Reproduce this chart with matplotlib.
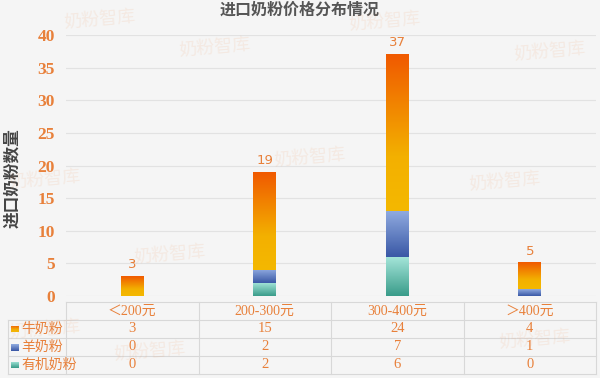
import numpy as np
import matplotlib
matplotlib.use("Agg")
import matplotlib.pyplot as plt
import matplotlib.transforms as mtransforms
from matplotlib.colors import LinearSegmentedColormap

plt.rcParams['font.family'] = ['Liberation Serif', 'Noto Sans CJK SC', 'DejaVu Sans']

# data
categories = ['＜200元', '200-300元', '300-400元', '＞400元']
series_names = ['牛奶粉', '羊奶粉', '有机奶粉']
cow = [3, 15, 24, 4]
goat = [0, 2, 7, 1]
organic = [0, 2, 6, 0]
totals = [3, 19, 37, 5]
yticks = [0, 5, 10, 15, 20, 25, 30, 35, 40]

orange = '#E8803A'
bg = '#F5F5F5'
grid_c = '#E2E2E2'

# gradient stops, bottom -> top
grads = {
    '牛奶粉': [(0.0, '#F4B800'), (0.35, '#F3B000'), (1.0, '#F05A00')],
    '羊奶粉': [(0.0, '#3A58A6'), (1.0, '#8FAADF')],
    '有机奶粉': [(0.0, '#3A9C8A'), (1.0, '#A6E6DA')],
}

fig = plt.figure(figsize=(6, 3.78), dpi=100, facecolor=bg)
ax = fig.add_axes([66/600, 1 - 296/378, 530/600, (296 - 35)/378], facecolor=bg)
ax.set_xlim(-0.5, 3.5)
ax.set_ylim(0, 40)


def grad_bar(x, y0, y1, stops, w=0.17):
    if y1 <= y0:
        return
    cmap = LinearSegmentedColormap.from_list('g', stops)
    img = np.linspace(0, 1, 64).reshape(-1, 1)
    ax.imshow(img, cmap=cmap, origin='lower', aspect='auto',
              extent=[x - w/2, x + w/2, y0, y1], zorder=3, interpolation='bicubic')


x = np.arange(len(categories))
stack = [('有机奶粉', organic), ('羊奶粉', goat), ('牛奶粉', cow)]
base = np.zeros(len(categories))
for name, vals in stack:
    for i, v in enumerate(vals):
        grad_bar(x[i], base[i], base[i] + v, grads[name])
    base = base + np.array(vals)

ax.set_xlim(-0.5, 3.5)
ax.set_ylim(0, 40)

for i, t in enumerate(totals):
    ax.text(x[i], t + 0.8, str(t), ha='center', va='bottom', color=orange,
            fontsize=9.5, family=['DejaVu Sans'])

ax.set_yticks(yticks)
ax.set_yticklabels([str(v) for v in yticks], color=orange, fontsize=12.5, fontweight='bold')
ax.set_xticks([])
ax.tick_params(axis='y', length=0, pad=8)
ax.yaxis.grid(True, color=grid_c, linewidth=0.8)
ax.set_axisbelow(True)
for s in ax.spines.values():
    s.set_visible(False)

# title and y label
fig.text(0.5, 1 - 10/378, '进口奶粉价格分布情况', ha='center', va='center',
         fontsize=11.5, fontweight='bold', color='#555555', family=['Noto Sans CJK SC'])
fig.text(12/600, 1 - 178/378, '进口奶粉数量', ha='center', va='center', rotation=90,
         fontsize=12, fontweight='bold', color='#444444', family=['Noto Sans CJK SC'])

# data table
tr = mtransforms.blended_transform_factory(ax.transData, fig.transFigure)
row_y = [302, 320, 338, 356, 374]
line_c = '#D8D8D8'
fy = lambda p: 1 - p/378
# horizontal lines
ax.plot([-0.5, 3.5], [fy(row_y[0])] * 2, color=line_c, lw=0.8, transform=tr, clip_on=False)
for yy in row_y[1:]:
    fig.add_artist(plt.Line2D([8/600, 596/600], [fy(yy)] * 2, color=line_c, lw=0.8))
# vertical lines
for xv in [-0.5, 0.5, 1.5, 2.5, 3.5]:
    ax.plot([xv, xv], [fy(row_y[0]), fy(row_y[-1])], color=line_c, lw=0.8,
            transform=tr, clip_on=False)
fig.add_artist(plt.Line2D([8/600, 8/600], [fy(row_y[1]), fy(row_y[-1])], color=line_c, lw=0.8))

for i, c in enumerate(categories):
    ax.text(x[i], fy((row_y[0] + row_y[1]) / 2), c, ha='center', va='center',
            color=orange, fontsize=10, transform=tr, clip_on=False)

rows = [('牛奶粉', cow), ('羊奶粉', goat), ('有机奶粉', organic)]
for r, (name, vals) in enumerate(rows):
    yc = fy((row_y[r + 1] + row_y[r + 2]) / 2)
    for i, v in enumerate(vals):
        ax.text(x[i], yc, str(v), ha='center', va='center', color=orange,
                fontsize=10.5, transform=tr, clip_on=False)
    lax = fig.add_axes([11/600, yc - 3.5/378, 8/600, 7/378])
    lax.imshow(np.linspace(0, 1, 16).reshape(-1, 1),
               cmap=LinearSegmentedColormap.from_list('l', grads[name]),
               origin='lower', aspect='auto')
    lax.axis('off')
    fig.text(21/600, yc, name, ha='left', va='center', color=orange,
             fontsize=10, family=['Noto Sans CJK SC'])

# faint watermarks
marks = [(100, 20), (215, 48), (385, 22), (550, 52), (310, 158), (505, 182),
         (170, 255), (45, 330), (150, 352), (535, 340), (45, 180)]
for mx, my in marks:
    fig.text(mx/600, fy(my), '奶粉智库', ha='center', va='center', color='#F0A070',
             alpha=0.14, fontsize=13, family=['Noto Sans CJK SC'], rotation=5)

fig.savefig('out.png', dpi=100, facecolor=bg)
